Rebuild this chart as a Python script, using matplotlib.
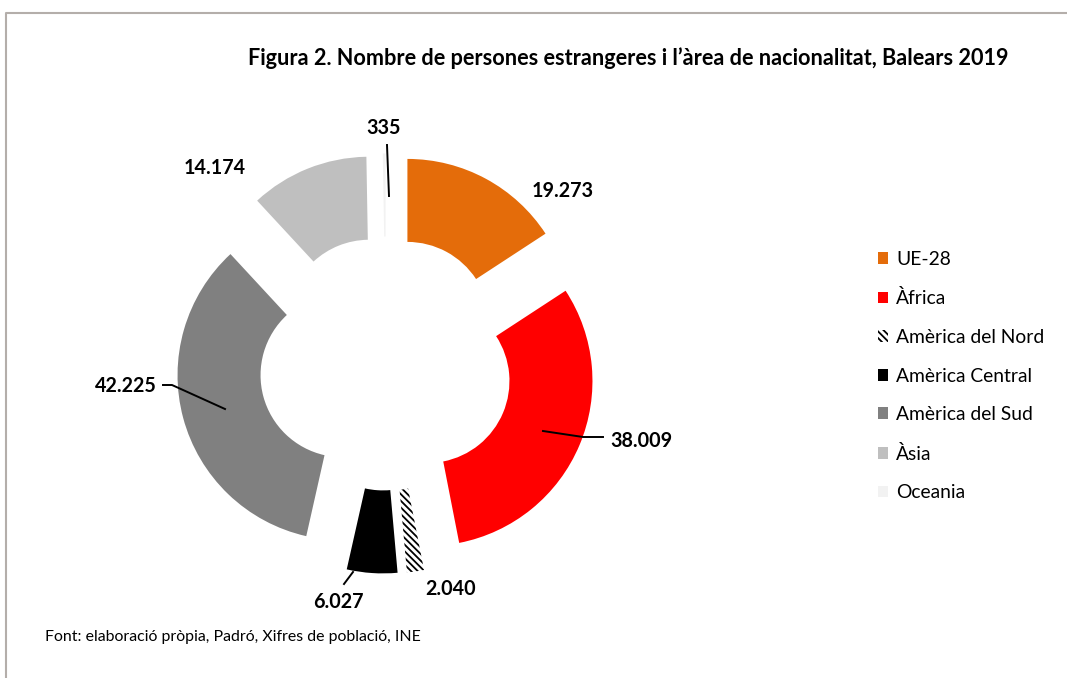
import matplotlib
matplotlib.use("Agg")
import matplotlib.pyplot as plt
from matplotlib.lines import Line2D

categories = ["UE-28", "Àfrica", "Amèrica del Nord", "Amèrica Central",
              "Amèrica del Sud", "Àsia", "Oceania"]
values = [19273, 38009, 2040, 6027, 42225, 14174, 335]
value_labels = ["19.273", "38.009", "2.040", "6.027", "42.225", "14.174", "335"]
title = "Figura 2. Nombre de persones estrangeres i l\u2019àrea de nacionalitat, Balears 2019"
source = "Font: elaboració pròpia, Padró, Xifres de població, INE"

colors = ["#E46C0A", "#FF0000", "white", "#000000", "#808080", "#BFBFBF", "#F2F2F2"]

W, H = 1067, 678
fig = plt.figure(figsize=(W / 100, H / 100), dpi=100)
ax = fig.add_axes([0, 0, 1, 1])

# pixel-like coordinate system (y measured upward)
cx, cy = 386, H - 363.5
r_out, r_in, expl = 165, 82, 45

plt.rcParams['hatch.linewidth'] = 1.3
wedges, _ = ax.pie(values, colors=colors, startangle=90, counterclock=False,
                   radius=r_out, center=(cx, cy), explode=[expl] * len(values),
                   wedgeprops=dict(width=r_out - r_in, linewidth=0))
# Amèrica del Nord hatched pattern
wedges[2].set_hatch("\\\\\\\\\\")
wedges[2].set_edgecolor("black")
wedges[2].set_linewidth(0)

ax.set_xlim(0, W)
ax.set_ylim(0, H)
ax.set_aspect("equal")
ax.axis("off")

# data labels (positions in pixel coords from top)
lab_pos = [(563, 191), (641, 441), (451, 589), (338, 602), (126, 386), (215, 168), (384, 128)]
for (px, py), t in zip(lab_pos, value_labels):
    ax.text(px, H - py, t, ha="center", va="center", fontsize=14.2,
            fontweight="bold", family="Lato", color="black")

# leader lines
leaders = [
    [(387, 145), (389, 196)],
    [(543, 431), (583, 437), (603, 437)],
    [(163, 385), (172, 385), (225, 409)],
    [(344, 584), (353, 572)],
]
for pts in leaders:
    xs = [p[0] for p in pts]
    ys = [H - p[1] for p in pts]
    ax.add_line(Line2D(xs, ys, color="black", linewidth=1.4))

# title and source
ax.text(628, H - 58, title, ha="center", va="center", fontsize=15.6,
        fontweight="bold", family="Lato")
ax.text(45, H - 637, source, ha="left", va="center", fontsize=11.4, family="Lato")

# legend
leg = ax.legend(wedges, categories, loc="upper left",
                bbox_to_anchor=(868 / W, 1 - 241 / H), frameon=False,
                prop={"family": "Lato", "size": 13.9},
                handlelength=0.55, handleheight=0.55, handletextpad=0.42,
                labelspacing=1.12, borderpad=0)

# outer frame (top and left border lines)
ax.add_line(Line2D([6, 6, W], [0, H - 13, H - 13], color="#B4AEAA", linewidth=1.5))

fig.savefig("out.png", dpi=100)
